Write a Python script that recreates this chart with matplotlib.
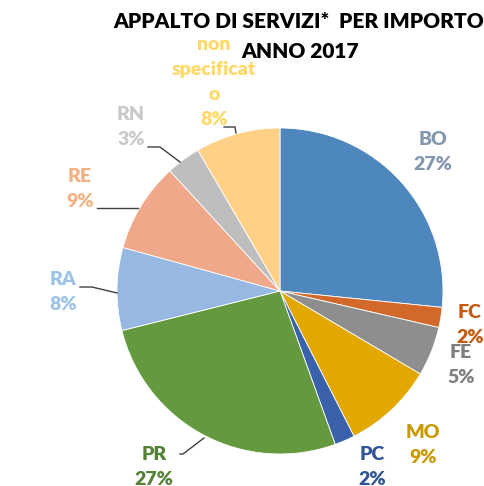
import matplotlib
matplotlib.use("Agg")
import matplotlib.pyplot as plt
from matplotlib.lines import Line2D

# ---- data ----
categories = ["BO", "FC", "FE", "MO", "PC", "PR", "RA", "RE", "RN", "non\nspecificat\no"]
values = [26.6, 2.0, 4.9, 9.0, 2.0, 26.6, 8.2, 8.9, 3.4, 8.4]
wedge_colors = ["#4E86BE", "#D2692A", "#8E8E8E", "#E3A800", "#3A62AA",
                "#64993F", "#97B8E0", "#EFA88A", "#BEBEBE", "#FFD085"]
label_colors = ["#8497B0", "#C55A11", "#7F7F7F", "#C99A00", "#2F5597",
                "#548235", "#9DC3E6", "#F4B183", "#C9C9C9", "#FFD966"]
title_lines = ["APPALTO DI SERVIZI*  PER IMPORTO", "ANNO 2017"]

# ---- layout (pixels) ----
W, H = 485, 486
cx, cy, R = 280, 291, 163
label_pos = [(433, 152), (470, 325), (461, 365), (423, 445), (372, 467),
             (154, 467), (63, 292), (80, 189), (131, 127), (214, 82)]
leaders = [None, None, None, None, None,
           [(180, 454), (183, 454), (204, 438)],
           [(80, 287), (92, 287), (117, 293)],
           [(97, 208), (138, 208)],
           [(148, 147), (160, 147), (180, 162)],
           [(224, 127), (235, 127), (236, 133)]]

FONT = "Lato"
fig = plt.figure(figsize=(W / 100, H / 100), dpi=100)
ax = fig.add_axes([(cx - R) / W, (H - cy - R) / H, 2 * R / W, 2 * R / H])
ax.pie(values, colors=wedge_colors, startangle=90, counterclock=False,
       radius=1, wedgeprops=dict(edgecolor="white", linewidth=0.6))
ax.set_xlim(-1, 1)
ax.set_ylim(-1, 1)
ax.set_aspect("equal")
ax.axis("off")

def fx(x): return x / W
def fy(y): return 1 - y / H

for cat, v, col, (px, py) in zip(categories, values, label_colors, label_pos):
    txt = f"{cat}\n{round(v)}%"
    fig.text(fx(px), fy(py), txt, ha="center", va="center", color=col,
             fontsize=14, fontweight="heavy", family=FONT, linespacing=1.55)

for seg in leaders:
    if seg is None:
        continue
    xs = [fx(p[0]) for p in seg]
    ys = [fy(p[1]) for p in seg]
    fig.add_artist(Line2D(xs, ys, color="#404040", linewidth=1.0,
                          transform=fig.transFigure))

fig.text(fx(299), fy(22), title_lines[0], ha="center", va="center",
         fontsize=15, fontweight="heavy", family=FONT, color="black")
fig.text(fx(300), fy(51), title_lines[1], ha="center", va="center",
         fontsize=15, fontweight="heavy", family=FONT, color="black")

fig.savefig("out.png", dpi=100, facecolor="white")
